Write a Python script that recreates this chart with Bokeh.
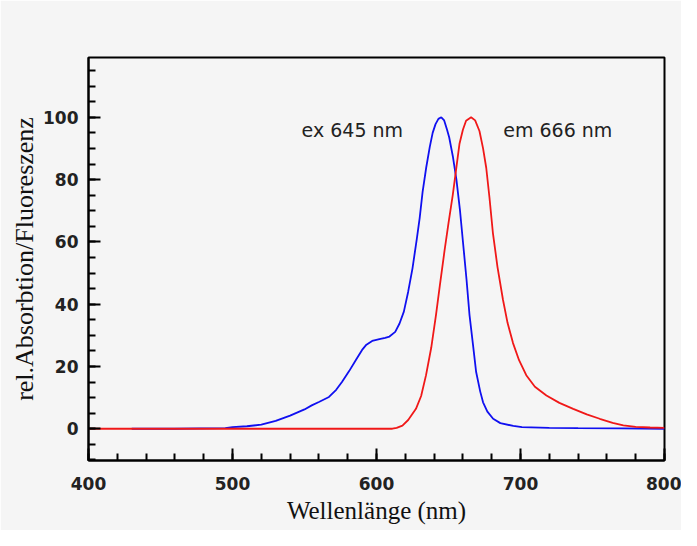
from bokeh.plotting import figure
from bokeh.models import FixedTicker, Range1d
from bokeh.core.properties import value
from bokeh.embed import file_html
from bokeh.resources import INLINE

# ---- data ----
ex_wl = [430, 460, 495, 500, 510, 520, 530, 540, 550, 555, 560, 567, 572, 576, 581,
         586, 590, 593, 597, 602, 606, 609, 613, 616, 619, 622, 625, 628, 630, 632,
         634.5, 637, 639, 641, 643, 645, 647, 649, 650.5, 653, 655.5, 658, 660, 662.5,
         664.6, 667, 669.2, 672, 674, 677, 681, 686, 695, 701, 720, 740, 770, 800]
ex_val = [0, 0, 0.2, 0.5, 0.8, 1.3, 2.5, 4.2, 6.2, 7.5, 8.6, 10.2, 12.5, 15, 18.5,
          22.3, 25.3, 27, 28.2, 28.8, 29.2, 29.6, 31.1, 33.8, 37.6, 44, 51.5, 61, 67.7, 76,
          83.8, 90.5, 95, 97.8, 99.5, 100, 99, 96, 93.5, 87.5, 80, 70, 60.2, 48,
          36.5, 27, 18.2, 12, 8.5, 5.5, 3.2, 1.8, 0.9, 0.5, 0.3, 0.2, 0.1, 0]

em_wl = [400, 611, 614, 618, 622, 627.4, 631, 634.4, 638, 641.3, 644, 647.2, 650, 653,
         655.5, 657.6, 660, 662.2, 665.7, 668.5, 671.5, 674, 676.2, 678.5, 680.8, 684,
         687.8, 691, 694.8, 699, 704, 710, 718, 727, 736.6, 746, 755, 764, 771.4, 780,
         790, 800]
em_val = [0, 0, 0.3, 1, 2.8, 6.4, 10.5, 17.2, 26, 36.5, 46, 57, 66, 75.2,
          84, 91.4, 96, 98.9, 100, 99, 95.6, 90, 83.8, 74, 63, 52,
          41.5, 34, 27.5, 22, 17.2, 13.5, 10.7, 8.3, 6.4, 4.6, 3.2, 1.9, 1.1, 0.6,
          0.4, 0.3]

x_major = [400, 500, 600, 700, 800]
x_minor = list(range(400, 801, 20))
y_major = [0, 20, 40, 60, 80, 100]
y_minor = list(range(-10, 121, 5))

labels = ["ex 645 nm", "em 666 nm"]
label_x = [548, 688]
label_y = [96, 96]

BG = "#f5f5f5"

p = figure(frame_width=576, frame_height=403,
           min_border_left=88, min_border_right=17,
           min_border_top=57, min_border_bottom=70,
           x_range=Range1d(400, 800), y_range=Range1d(-10.2, 119.2),
           output_backend="svg", toolbar_location=None,
           background_fill_color=BG, border_fill_color=BG)

p.grid.visible = False
p.outline_line_color = "black"
p.outline_line_width = 2

p.line(ex_wl, ex_val, line_color="#1010f0", line_width=1.8)
p.line(em_wl, em_val, line_color="#f01818", line_width=1.8)

p.text(x=label_x, y=label_y, text=labels, text_font=value("DejaVu Sans"),
       text_font_size="19px", text_color="#222222", text_baseline="alphabetic",
       text_align="left")

for ax, major, minor in ((p.xaxis[0], x_major, x_minor), (p.yaxis[0], y_major, y_minor)):
    ax.ticker = FixedTicker(ticks=major, minor_ticks=minor)
    ax.axis_line_color = "black"
    ax.axis_line_width = 2
    ax.major_tick_line_color = "black"
    ax.minor_tick_line_color = "black"
    ax.major_tick_line_width = 2
    ax.minor_tick_line_width = 2
    ax.major_tick_in = 12
    ax.major_tick_out = 0
    ax.minor_tick_in = 7
    ax.minor_tick_out = 0
    ax.major_label_text_font = "DejaVu Sans"
    ax.major_label_text_font_size = "17px"
    ax.major_label_text_font_style = "bold"
    ax.major_label_text_color = "#222222"
    ax.axis_label_text_font = "Liberation Serif"
    ax.axis_label_text_font_style = "normal"
    ax.axis_label_text_color = "#111111"

p.xaxis.axis_label = "Wellenlänge (nm)"
p.xaxis.axis_label_text_font_size = "25px"
p.xaxis.major_label_standoff = 16
p.xaxis.axis_label_standoff = 4

p.yaxis.axis_label = "rel.Absorbtion/Fluoreszenz"
p.yaxis.axis_label_text_font_size = "26px"
p.yaxis.major_label_standoff = 10
p.yaxis.axis_label_standoff = 1

html = file_html(p, INLINE)
html = html.replace("<body>", '<body style="background-color:%s;">' % BG, 1)
open("out.html", "w").write(html)
